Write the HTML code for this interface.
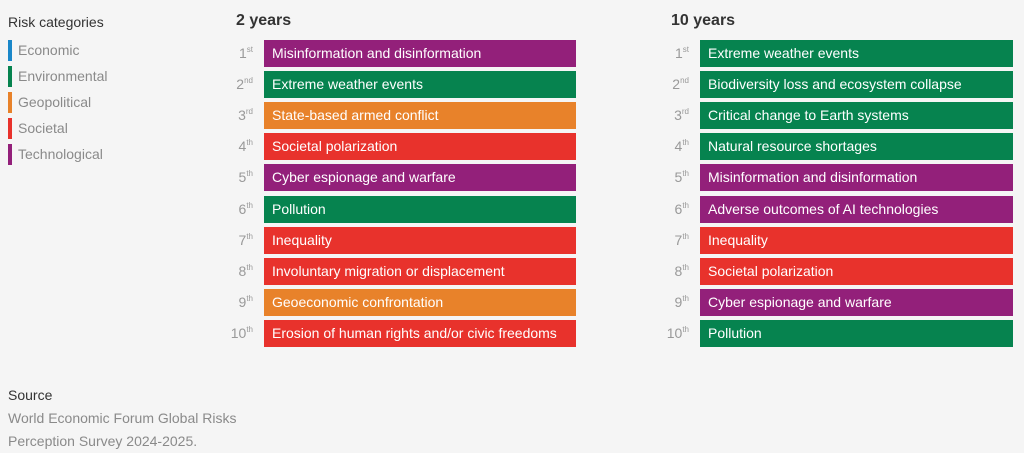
<!DOCTYPE html>
<html><head><style>
body{margin:0;width:1024px;height:451px;background:#f5f5f5;font-family:"Liberation Sans",sans-serif;position:relative;overflow:hidden}
.a{position:absolute}
.lg{position:absolute;left:8px;height:21px;border-left:4px solid;padding-left:6px;font-size:14px;color:#8a8a8a;line-height:21px}
.bar{position:absolute;height:27px;color:#fff;font-size:14px;line-height:27px;padding-left:8px;box-sizing:border-box}
.rk{position:absolute;width:40px;text-align:right;font-size:14px;color:#999;line-height:27px}
.rk sup{font-size:8px;vertical-align:top;line-height:20px;margin-left:0}
.P{background:#93207a}.G{background:#06834f}.O{background:#e8822a}.R{background:#e8322c}
</style></head><body>
<div class="a" style="left:8px;top:14px;font-size:14px;color:#333">Risk categories</div>
<div class="lg" style="top:40px;border-color:#1a87c9">Economic</div>
<div class="lg" style="top:66px;border-color:#06834f">Environmental</div>
<div class="lg" style="top:92px;border-color:#e8822a">Geopolitical</div>
<div class="lg" style="top:118px;border-color:#e8322c">Societal</div>
<div class="lg" style="top:144px;border-color:#93207a">Technological</div>
<div class="a" style="left:236px;top:12px;font-size:16px;font-weight:bold;color:#333">2 years</div>
<div class="a" style="left:671px;top:12px;font-size:16px;font-weight:bold;color:#333">10 years</div>
<div class="a" style="left:8px;top:387px;font-size:14px;color:#333">Source</div>
<div class="a" style="left:8px;top:407px;font-size:14px;color:#8a8a8a;line-height:23px">World Economic Forum Global Risks<br>Perception Survey 2024-2025.</div>
<div id="c"></div>
<script>
var L=[["P","Misinformation and disinformation"],["G","Extreme weather events"],["O","State-based armed conflict"],["R","Societal polarization"],["P","Cyber espionage and warfare"],["G","Pollution"],["R","Inequality"],["R","Involuntary migration or displacement"],["O","Geoeconomic confrontation"],["R","Erosion of human rights and/or civic freedoms"]];
var Rr=[["G","Extreme weather events"],["G","Biodiversity loss and ecosystem collapse"],["G","Critical change to Earth systems"],["G","Natural resource shortages"],["P","Misinformation and disinformation"],["P","Adverse outcomes of AI technologies"],["R","Inequality"],["R","Societal polarization"],["P","Cyber espionage and warfare"],["G","Pollution"]];
var s=["st","nd","rd","th","th","th","th","th","th","th"],h="";
for(var i=0;i<10;i++){var y=40+i*31.1;
h+='<div class="rk" style="left:213px;top:'+y+'px">'+(i+1)+'<sup>'+s[i]+'</sup></div>';
h+='<div class="bar '+L[i][0]+'" style="left:264px;width:312px;top:'+y+'px">'+L[i][1]+'</div>';
h+='<div class="rk" style="left:649px;top:'+y+'px">'+(i+1)+'<sup>'+s[i]+'</sup></div>';
h+='<div class="bar '+Rr[i][0]+'" style="left:700px;width:313px;top:'+y+'px">'+Rr[i][1]+'</div>';}
document.getElementById("c").innerHTML=h;
</script>
</body></html>
